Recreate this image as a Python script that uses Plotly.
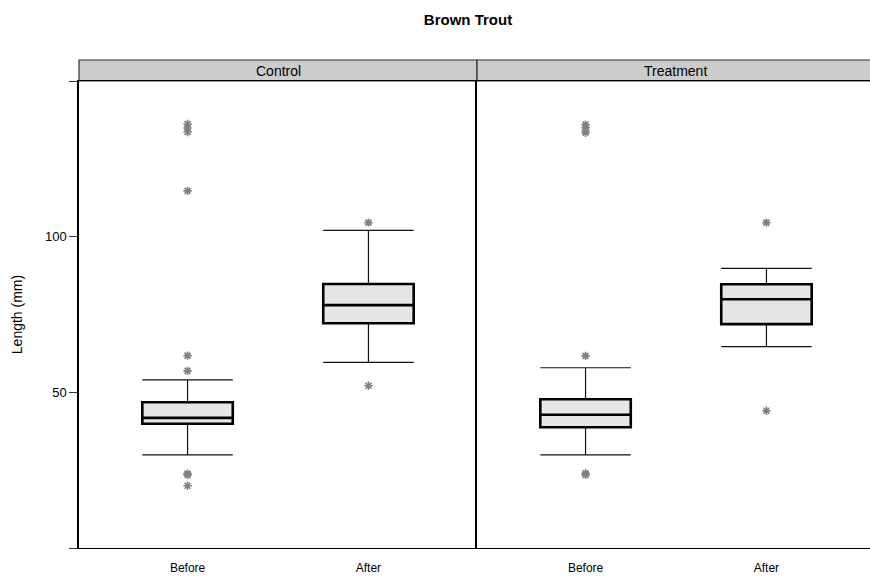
import plotly.graph_objects as go

# ---- data ----
panels = ["Control", "Treatment"]
groups = ["Before", "After"]
group_pos = [1, 2]

# box statistics per panel: [Before, After]
q1 = {"Control": [39.9, 72.2], "Treatment": [38.8, 71.9]}
median = {"Control": [41.8, 78.0], "Treatment": [42.8, 79.9]}
q3 = {"Control": [46.8, 84.8], "Treatment": [47.8, 84.7]}
lower_whisker = {"Control": [29.9, 59.6], "Treatment": [29.9, 64.7]}
upper_whisker = {"Control": [54.0, 102.0], "Treatment": [57.9, 89.8]}

outliers = {
    "Control": [
        [136.2, 134.9, 133.6, 114.7, 61.8, 56.9, 23.9, 23.5, 20.0],
        [104.5, 52.1],
    ],
    "Treatment": [
        [136.0, 135.0, 134.0, 133.4, 61.7, 24.0, 23.5],
        [104.5, 44.1],
    ],
}

y_ticks = [0, 50, 100, 150]
y_ticklabels = ["", "50", "100", ""]

fig = go.Figure()

axes = [("x", "y"), ("x2", "y2")]
for p, (xa, ya) in zip(panels, axes):
    for i, g in enumerate(groups):
        xpos = [group_pos[i]]
        # thin whiskers
        fig.add_trace(go.Box(
            x=xpos, q1=[q1[p][i]], median=[median[p][i]], q3=[q3[p][i]],
            lowerfence=[lower_whisker[p][i]], upperfence=[upper_whisker[p][i]],
            width=0.5, whiskerwidth=1, fillcolor="#e6e6e6",
            line=dict(color="#111111", width=1.2),
            boxpoints=False, showlegend=False, hoverinfo="skip",
            xaxis=xa, yaxis=ya,
        ))
        # thick box
        fig.add_trace(go.Box(
            x=xpos, q1=[q1[p][i]], median=[median[p][i]], q3=[q3[p][i]],
            lowerfence=[q1[p][i]], upperfence=[q3[p][i]],
            width=0.5, whiskerwidth=0, fillcolor="#e6e6e6",
            line=dict(color="#000000", width=2.6),
            boxpoints=False, showlegend=False, hoverinfo="skip",
            xaxis=xa, yaxis=ya,
        ))
        fig.add_trace(go.Scatter(
            x=[group_pos[i]] * len(outliers[p][i]), y=outliers[p][i],
            mode="markers",
            marker=dict(symbol="asterisk-open", size=7, color="#808080",
                        line=dict(color="#808080", width=1.6)),
            showlegend=False, hoverinfo="skip",
            xaxis=xa, yaxis=ya,
        ))

W, H = 870, 576
ml, mt, mb, mr = 79, 81, 28, 0
plot_w = W - ml - mr
split = (477 - ml) / plot_w
px_per_unit = (477 - ml) / 2.2
right_max = 0.4 + (W - 477) / px_per_unit

font = "Liberation Sans, Arial, sans-serif"
xcommon = dict(tickmode="array", tickvals=group_pos, ticktext=groups,
               showgrid=False, zeroline=False, ticks="",
               ticklabelstandoff=8,
               tickfont=dict(size=12, color="black", family=font),
               showline=True, linecolor="black", linewidth=1.2, mirror=True)

fig.update_layout(
    width=W, height=H,
    margin=dict(l=ml, r=mr, t=mt, b=mb),
    paper_bgcolor="white", plot_bgcolor="white",
    title=dict(text="<b>Brown Trout</b>", x=468 / W, xanchor="center",
               y=1 - 20 / H, yanchor="middle",
               font=dict(size=15, color="black", family=font)),
    xaxis=dict(domain=[0, split], range=[0.4, 2.6], **xcommon),
    xaxis2=dict(domain=[split, 1], range=[0.4, right_max], anchor="y2", **xcommon),
    yaxis=dict(range=[0, 150], tickmode="array", tickvals=y_ticks,
               ticktext=y_ticklabels, ticks="outside", ticklen=8,
               tickcolor="#333", showgrid=False, zeroline=False,
               showline=True, linecolor="black", linewidth=1.5, mirror=False,
               tickfont=dict(size=13, color="black", family=font),
               title=dict(text="Length (mm)", standoff=19,
                          font=dict(size=14, color="black", family=font))),
    yaxis2=dict(range=[0, 150], matches="y", anchor="x2", showticklabels=False,
                ticks="", showgrid=False, zeroline=False,
                showline=True, linecolor="black", linewidth=1.5, mirror=False),
    font=dict(family=font, color="black"),
)

# strip headers
strip_h = 21 / (H - mt - mb)
for p, (x0, x1, xc) in zip(panels, [(0, split, split / 2),
                                    (split, 1.004, (split + (873 - ml) / plot_w) / 2)]):
    fig.add_shape(type="rect", xref="paper", yref="paper",
                  x0=x0, x1=x1, y0=1, y1=1 + strip_h,
                  fillcolor="#cccccc", line=dict(color="#333333", width=1.2),
                  layer="below")
    fig.add_annotation(xref="paper", yref="paper", x=xc, xanchor="center",
                       y=1 + strip_h / 2, text=p, showarrow=False,
                       font=dict(size=14, color="black", family=font),
                       yanchor="middle")

fig.write_html("out.html")
